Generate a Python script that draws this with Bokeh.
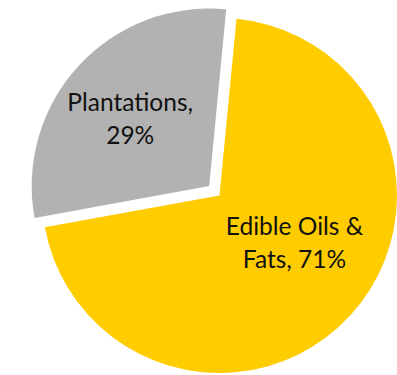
import math
from bokeh.plotting import figure
from bokeh.models import Range1d, ColumnDataSource
from bokeh.core.properties import value
from bokeh.embed import file_html
from bokeh.resources import INLINE

# data
categories = ["Edible Oils & Fats", "Plantations"]
values = [70.6, 29.4]
label_line1 = ["Edible Oils &", "Plantations,"]
label_line2 = ["Fats, 71%", "29%"]
colors = ["#FFCC00", "#B2B2B2"]
explode = [0, 14]

W, H = 397, 375
cx, cy = 219, H - 195
R = 177.5
rot = 5.5  # degrees clockwise from 12 o'clock for first slice

total = sum(values)
xs, ys, starts, ends = [], [], [], []
lx, ly1, ly2 = [], [], []
cum = rot
for v, ex in zip(values, explode):
    sweep = v / total * 360.0
    t0, t1 = cum, cum + sweep
    cum = t1
    # bokeh angles: counterclockwise from +x
    s = math.radians(90 - t1)
    e = math.radians(90 - t0)
    mid = (s + e) / 2
    x0 = cx + ex * math.cos(mid)
    y0 = cy + ex * math.sin(mid)
    xs.append(x0); ys.append(y0); starts.append(s); ends.append(e)
    lm = mid + math.radians(6)
    lr = 0.54 * R
    tx = x0 + lr * math.cos(lm) - 2
    ty = y0 + lr * math.sin(lm)
    lx.append(tx); ly1.append(ty + 27); ly2.append(ty - 6)

p = figure(width=W, height=H, x_range=Range1d(0, W), y_range=Range1d(0, H),
           min_border=0, toolbar_location=None, output_backend="svg")
p.axis.visible = False
p.grid.visible = False
p.outline_line_color = None
p.background_fill_color = "white"
p.border_fill_color = "white"

src = ColumnDataSource(dict(x=xs, y=ys, s=starts, e=ends, c=colors,
                            lx=lx, ly1=ly1, ly2=ly2, t1=label_line1, t2=label_line2,
                            cat=categories, val=values))
p.wedge(x="x", y="y", radius=R, start_angle="s", end_angle="e",
        fill_color="c", line_color=None, source=src)
for yk, tk in (("ly1", "t1"), ("ly2", "t2")):
    p.text(x="lx", y=yk, text=tk, source=src, text_align="center",
           text_baseline="alphabetic", text_font=value("Lato"),
           text_font_size="24.5px", text_color="#111111")

open("out.html", "w").write(file_html(p, INLINE))
